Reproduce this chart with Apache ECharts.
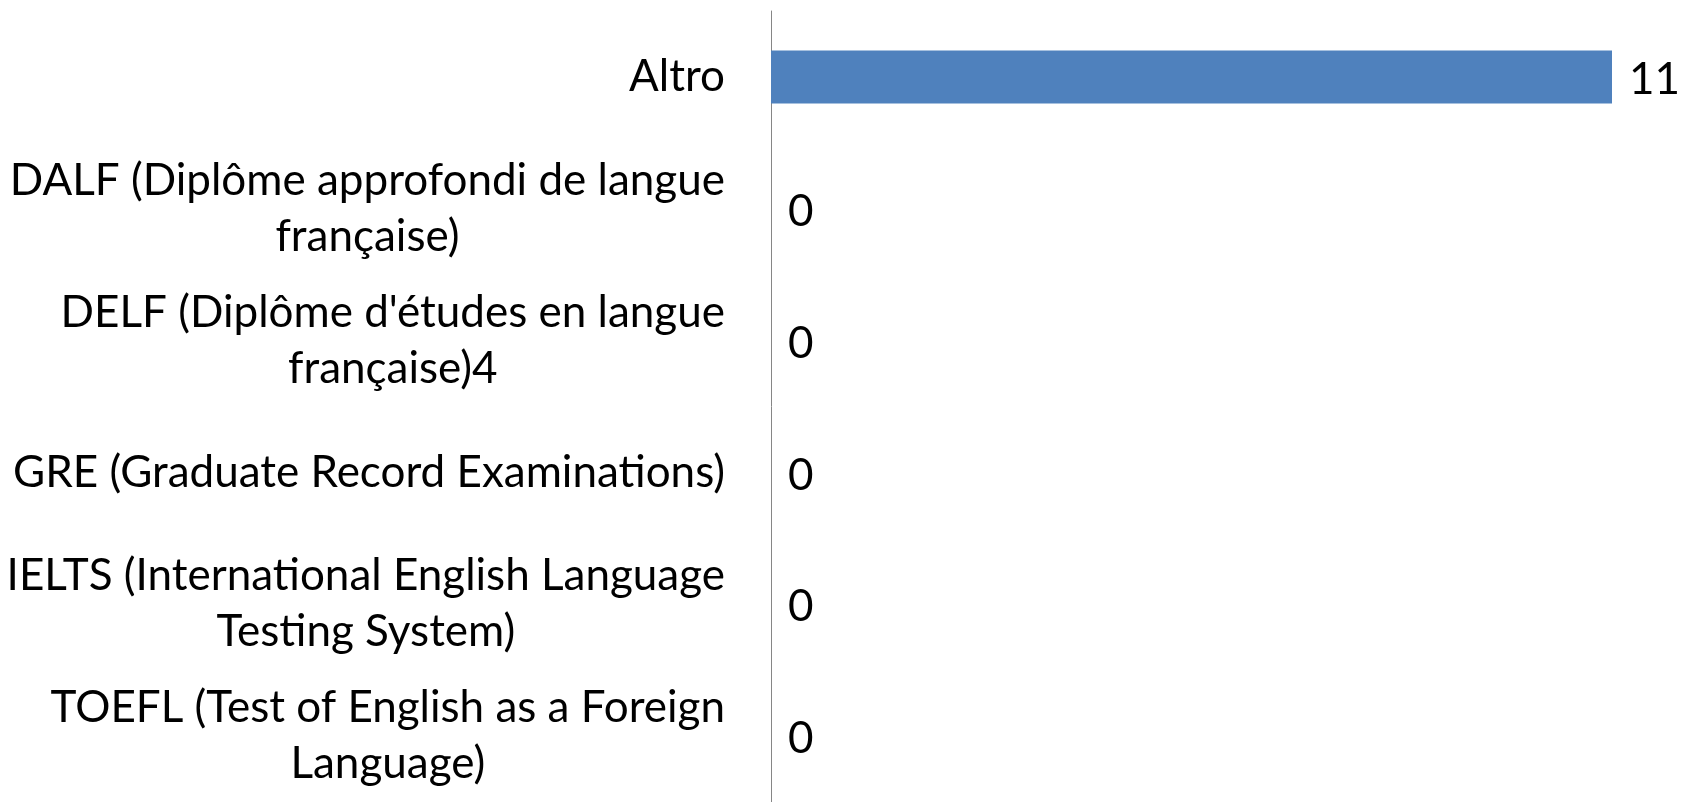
<!DOCTYPE html>
<html>
<head>
    <meta charset="utf-8">
    <title>ECharts</title>
    <script src="https://cdn.jsdelivr.net/npm/echarts@6/dist/echarts.min.js"></script>
    <style>
        html, body { margin: 0; padding: 0; background: #fff; }
    </style>
</head>
<body>
    <div id="main" style="width: 1692px;height:802px;"></div>
    <script type="text/javascript">
        var myChart = echarts.init(document.getElementById('main'));

        // categories, top to bottom
        var categories = [
            'Altro',
            'DALF (Diplôme approfondi de langue\nfrançaise)',
            'DELF (Diplôme d\'études en langue\nfrançaise)4',
            'GRE (Graduate Record Examinations)',
            'IELTS (International English Language\nTesting System)',
            'TOEFL (Test of English as a Foreign\nLanguage)'
        ];
        var counts = [11, 0, 0, 0, 0, 0];

        var fontFamily = 'Lato, "Noto Sans", sans-serif';
        var fontSize = 44;

        var option = {
            animation: false,
            grid: {
                left: 771,
                right: 80,
                top: 11,
                bottom: -9
            },
            xAxis: {
                type: 'value',
                min: 0,
                max: 11,
                show: false
            },
            yAxis: {
                type: 'category',
                inverse: true,
                data: categories,
                axisLine: {
                    show: true,
                    lineStyle: { color: '#868686', width: 1 }
                },
                axisTick: { show: false },
                axisLabel: {
                    margin: 46,
                    align: 'right',
                    color: '#000',
                    fontFamily: fontFamily,
                    fontSize: fontSize,
                    lineHeight: 56,
                    formatter: function (value) {
                        return value.split('\n').map(function (line) {
                            return '{c|' + line + '}';
                        }).join('\n');
                    },
                    rich: {
                        c: {
                            align: 'center',
                            color: '#000',
                            fontFamily: fontFamily,
                            fontSize: fontSize,
                            lineHeight: 56
                        }
                    }
                }
            },
            series: [{
                type: 'bar',
                data: counts,
                barWidth: 53,
                itemStyle: { color: '#4F81BD' },
                label: {
                    show: true,
                    position: 'right',
                    distance: 17,
                    offset: [0, 3],
                    color: '#000',
                    fontFamily: fontFamily,
                    fontSize: fontSize
                }
            }]
        };

        myChart.setOption(option);
    </script>
</body>
</html>
